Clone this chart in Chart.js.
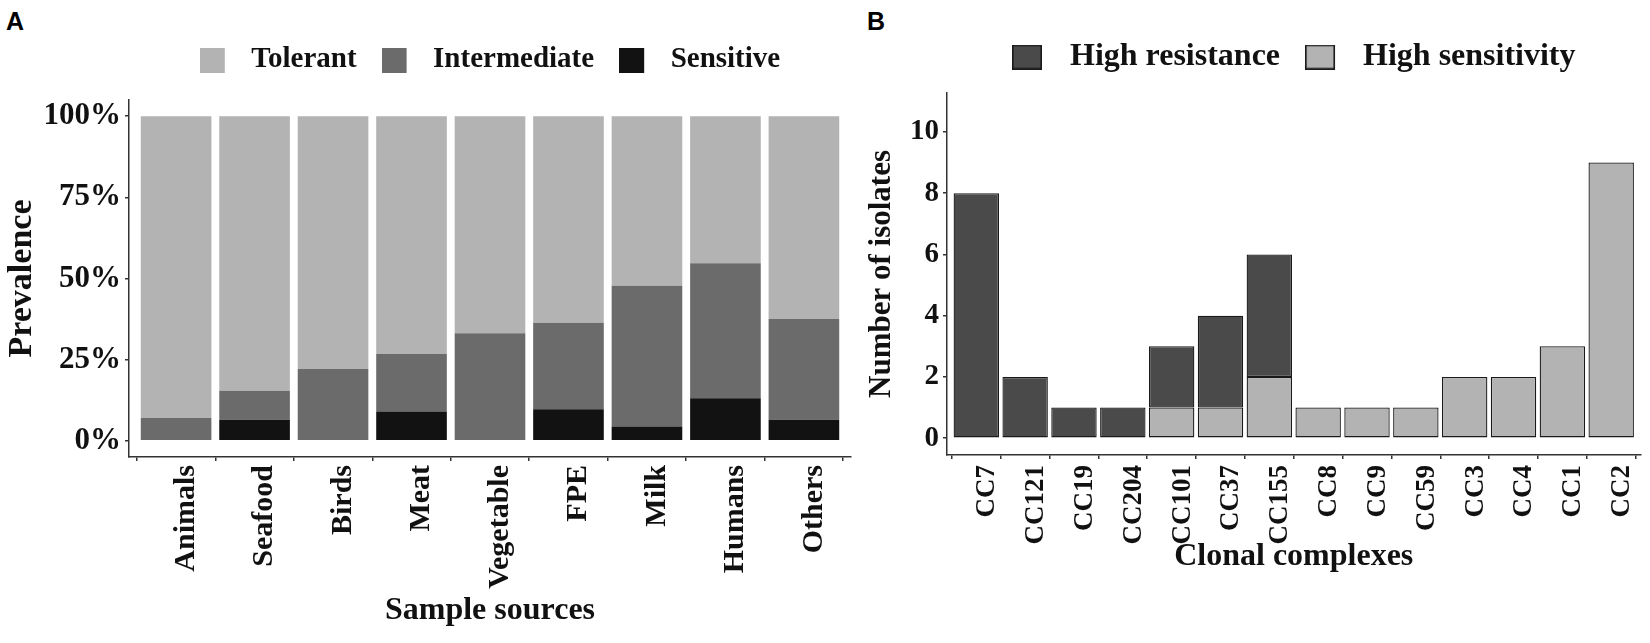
<!DOCTYPE html>
<html>
<head>
<meta charset="utf-8">
<script src="https://cdn.jsdelivr.net/npm/chart.js@4.4.0/dist/chart.umd.min.js"></script>
<style>
  body { margin: 0; background: #fff; width: 1650px; height: 643px; position: relative; overflow: hidden; }
  .panel { position: absolute; top: 0; height: 643px; }
  .tag { position: absolute; font: bold 25px 'Liberation Sans', Arial, sans-serif; line-height: 25px; color: #000; }
</style>
</head>
<body>
<div class="tag" style="left:6px; top:9px;">A</div>
<div class="tag" style="left:867px; top:9px;">B</div>
<div class="panel" style="left:0; width:860px;"><canvas id="chartA"></canvas></div>
<div class="panel" style="left:860px; width:790px;"><canvas id="chartB"></canvas></div>
<script>
// panel A - share of isolates per sample source (%)
const sources = ["Animals", "Seafood", "Birds", "Meat", "Vegetable", "FPE", "Milk", "Humans", "Others"];
const sensitive = [0, 6.5, 0, 9, 0, 9.7, 4.4, 13.1, 6.5];
const intermediate = [7, 8.9, 22.1, 17.7, 33.1, 26.7, 43.4, 41.6, 31];
const tolerant = [93, 84.6, 77.9, 73.3, 66.9, 63.6, 52.2, 45.3, 62.5];
const pctTicks = [0, 25, 50, 75, 100];

// panel B - isolates per clonal complex
const complexes = ["CC7", "CC121", "CC19", "CC204", "CC101", "CC37", "CC155", "CC8", "CC9", "CC59", "CC3", "CC4", "CC1", "CC2"];
const highResistance = [8, 2, 1, 1, 2, 3, 4, 0, 0, 0, 0, 0, 0, 0];
const highSensitivity = [0, 0, 0, 0, 1, 1, 2, 1, 1, 1, 2, 2, 3, 9];
const countTicks = [0, 2, 4, 6, 8, 10];

Chart.defaults.font.family = "'Liberation Serif', 'Times New Roman', serif";
Chart.defaults.font.weight = 'bold';
Chart.defaults.color = '#111';

const axisLine = { display: true, color: '#333', width: 1.5 };
const tickMarks = { display: true, drawOnChartArea: false, drawTicks: true, tickLength: 4, color: '#333', lineWidth: 1.5 };

// empty axis that only keeps a gap between legend and plot
function gapAxis(h) {
    return {
        type: 'linear', position: 'top', display: true,
        grid: { display: false }, border: { display: false }, ticks: { display: false },
        afterFit: s => { s.height = h; }
    };
}

// legend key: box drawn at the left of a wider slot, so the label sits further away
function swatch(color, w, h, slot, border) {
    const c = document.createElement('canvas');
    c.width = slot;
    c.height = h;
    const g = c.getContext('2d');
    g.fillStyle = color;
    g.fillRect(0, 0, w, h);
    if (border) {
        g.strokeStyle = border;
        g.lineWidth = 1.6;
        g.strokeRect(0.8, 0.8, w - 1.6, h - 1.6);
    }
    return c;
}

function legendWithKeys(keys) {
    return chart => Chart.defaults.plugins.legend.labels.generateLabels(chart)
        .map(item => Object.assign(item, { pointStyle: keys[item.datasetIndex] }));
}

const colorsA = ['#121212', '#6b6b6b', '#b3b3b3'];
const keysA = colorsA.map(c => swatch(c, 25, 25, 37));

new Chart(document.getElementById('chartA'), {
    type: 'bar',
    data: {
        datasets: [
            { label: 'Sensitive', data: sensitive.map((v, i) => ({ x: i, y: v })), backgroundColor: colorsA[0] },
            { label: 'Intermediate', data: intermediate.map((v, i) => ({ x: i, y: v })), backgroundColor: colorsA[1] },
            { label: 'Tolerant', data: tolerant.map((v, i) => ({ x: i, y: v })), backgroundColor: colorsA[2] }
        ]
    },
    options: {
        responsive: true,
        maintainAspectRatio: false,
        animation: false,
        layout: { padding: { top: 20.5, right: 9, left: 0, bottom: 0 } },
        datasets: { bar: { barPercentage: 0.9, categoryPercentage: 1, borderWidth: 0 } },
        plugins: {
            legend: {
                position: 'top', fullSize: false, reverse: true,
                labels: {
                    usePointStyle: true, pointStyleWidth: 37, boxHeight: 25, padding: 25,
                    font: { size: 29 }, generateLabels: legendWithKeys(keysA)
                }
            },
            tooltip: { enabled: false }
        },
        scales: {
            x: {
                type: 'linear', stacked: true, offset: false,
                min: -0.6, max: sources.length - 0.4,
                afterBuildTicks: s => { s.ticks = sources.map((c, i) => ({ value: i })); },
                ticks: {
                    autoSkip: false, minRotation: 90, maxRotation: 90, padding: 4, labelOffset: 10,
                    font: { size: 30 }, callback: v => sources[v]
                },
                grid: tickMarks,
                border: axisLine,
                title: { display: true, text: 'Sample sources', font: { size: 32 }, padding: { top: 0, bottom: 13 } },
                afterFit: s => { s.height = 186; }
            },
            y: {
                stacked: true, min: -5, max: 105,
                afterBuildTicks: s => { s.ticks = pctTicks.map(v => ({ value: v })); },
                ticks: { padding: 4, font: { size: 31 }, callback: v => v + '%' },
                grid: tickMarks,
                border: axisLine,
                title: { display: true, text: 'Prevalence', font: { size: 34 }, padding: { top: 2, bottom: 0 } },
                afterFit: s => { s.width = 129; }
            },
            gap: gapAxis(15.5)
        }
    }
});

const colorsB = ['#b3b3b3', '#4a4a4a'];
const keysB = colorsB.map(c => swatch(c, 30, 25, 42, '#1a1a1a'));

new Chart(document.getElementById('chartB'), {
    type: 'bar',
    data: {
        datasets: [
            { label: 'High sensitivity', data: highSensitivity.map((v, i) => ({ x: i, y: v })), backgroundColor: colorsB[0] },
            { label: 'High resistance', data: highResistance.map((v, i) => ({ x: i, y: v })), backgroundColor: colorsB[1] }
        ]
    },
    options: {
        responsive: true,
        maintainAspectRatio: false,
        animation: false,
        layout: { padding: { top: 16, right: 5, left: 0, bottom: 0 } },
        datasets: { bar: { barPercentage: 0.93, categoryPercentage: 1, borderWidth: 1.3, borderColor: '#1a1a1a', borderSkipped: false } },
        plugins: {
            legend: {
                position: 'top', fullSize: false, reverse: true,
                labels: {
                    usePointStyle: true, pointStyleWidth: 42, boxHeight: 25, padding: 25,
                    font: { size: 32 }, generateLabels: legendWithKeys(keysB)
                }
            },
            tooltip: { enabled: false }
        },
        scales: {
            x: {
                type: 'linear', stacked: true, offset: false,
                min: -0.6, max: complexes.length - 0.4,
                afterBuildTicks: s => { s.ticks = complexes.map((c, i) => ({ value: i })); },
                ticks: {
                    autoSkip: false, minRotation: 90, maxRotation: 90, padding: 6, labelOffset: 11,
                    font: { size: 27 }, callback: v => complexes[v]
                },
                grid: tickMarks,
                border: axisLine,
                title: { display: true, text: 'Clonal complexes', font: { size: 32 }, padding: { top: 0, bottom: 67 } },
                afterFit: s => { s.height = 188; }
            },
            y: {
                stacked: true, min: -0.55, max: 11.27,
                afterBuildTicks: s => { s.ticks = countTicks.map(v => ({ value: v })); },
                ticks: { padding: 4, font: { size: 29 } },
                grid: tickMarks,
                border: axisLine,
                title: { display: true, text: 'Number of isolates', font: { size: 31 }, padding: { top: 3, bottom: 0 } },
                afterFit: s => { s.width = 87; }
            },
            gap: gapAxis(10)
        }
    }
});
</script>
</body>
</html>
